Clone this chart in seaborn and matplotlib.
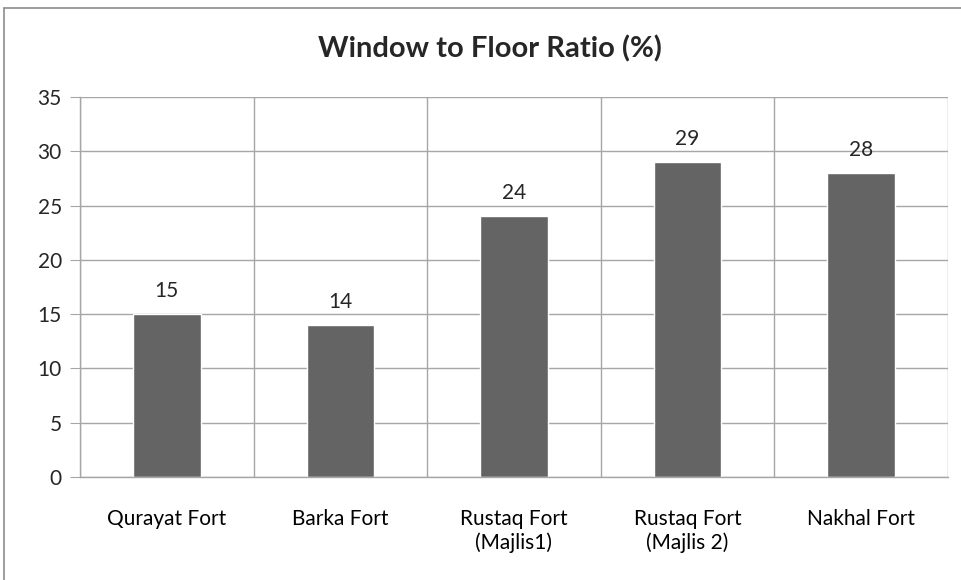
import numpy as np
import matplotlib.pyplot as plt
import seaborn as sns
from matplotlib.lines import Line2D
from matplotlib.ticker import FixedLocator

# --- data ---
forts = ['Qurayat Fort', 'Barka Fort', 'Rustaq Fort\n(Majlis1)', 'Rustaq Fort\n(Majlis 2)', 'Nakhal Fort']
ratio = [15, 14, 24, 29, 28]

sns.set_style('white')
plt.rcParams['font.family'] = ['Lato', 'DejaVu Sans']

fig = plt.figure(figsize=(9.61, 5.80), dpi=100)
ax = fig.add_axes([0.0832, 0.1776, 0.9033, 0.6552])

sns.barplot(x=forts, y=ratio, color='#646464', width=0.39, saturation=1, ax=ax)

grid_c = '#a6a6a6'
ax.set_xlim(-0.5, 4.5)
ax.set_ylim(0, 35)
ax.set_yticks(np.arange(0, 36, 5))
ax.yaxis.grid(True, color=grid_c, lw=1)
ax.xaxis.set_minor_locator(FixedLocator(np.arange(-0.5, 5, 1)))
ax.xaxis.grid(True, which='minor', color=grid_c, lw=1)
ax.set_axisbelow(True)

ax.tick_params(axis='x', which='major', length=0, labelsize=15, pad=23, colors='#000000')
ax.tick_params(axis='x', which='minor', length=8, color=grid_c, width=1)
ax.tick_params(axis='y', length=7, color=grid_c, labelsize=15, pad=6, left=True)
for s in ['top', 'right']:
    ax.spines[s].set_visible(False)
for s in ['left', 'bottom']:
    ax.spines[s].set_color(grid_c)
    ax.spines[s].set_linewidth(1)

for i, v in enumerate(ratio):
    ax.text(i, v + 1.2, str(v), ha='center', va='bottom', fontsize=15)

ax.set_xlabel('')
ax.set_ylabel('')
fig.text(0.51, 0.915, 'Window to Floor Ratio (%)', ha='center', va='center',
         fontsize=21, fontweight='bold')

# chart border (left and top edges visible)
fig.add_artist(Line2D([4/961, 4/961], [0, 1 - 8/580], transform=fig.transFigure, color='#8c8c8c', lw=1.2))
fig.add_artist(Line2D([4/961, 1], [1 - 8/580, 1 - 8/580], transform=fig.transFigure, color='#8c8c8c', lw=1.2))

fig.savefig('out.png', dpi=100)
